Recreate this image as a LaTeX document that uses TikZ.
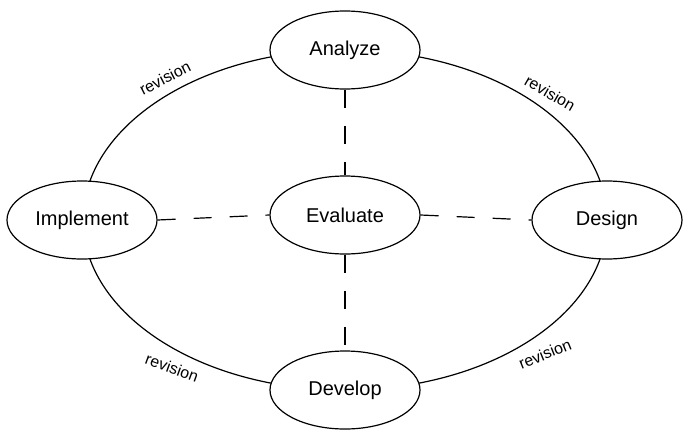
\documentclass[tikz,border=0pt]{standalone}
\usepackage{fontspec}
\setmainfont{Liberation Sans}
\usetikzlibrary{shapes.geometric}
\begin{document}
\begin{tikzpicture}[x=1pt,y=-1pt,
  phase/.style={ellipse,draw,fill=white,line width=1.2pt,minimum width=150pt,minimum height=78pt,inner sep=1pt,font=\fontsize{20}{24}\selectfont},
  link/.style={line width=1.2pt,dash pattern=on 18pt off 18pt},
  rev/.style={font=\fontsize{16}{18}\selectfont}]
\useasboundingbox (0,0) rectangle (694,445);
\draw[line width=1.2pt] (345,220) ellipse [x radius=262, y radius=170];
\node[phase] (analyze) at (345,50) {Analyze};
\node[phase] (implement) at (82,220) {Implement};
\node[phase] (design) at (607,220) {Design};
\node[phase] (evaluate) at (345,215) {Evaluate};
\node[phase] (develop) at (345,390) {Develop};
\draw[link] (analyze) -- (evaluate);
\draw[link] (evaluate) -- (develop);
\draw[link] (implement.east) -- (evaluate.west);
\draw[link] (evaluate.east) -- (design.west);
\node[rev,rotate=27] at (165,78) {revision};
\node[rev,rotate=-30] at (550,93) {revision};
\node[rev,rotate=-20] at (172,368) {revision};
\node[rev,rotate=22] at (545,354) {revision};
\end{tikzpicture}
\end{document}
